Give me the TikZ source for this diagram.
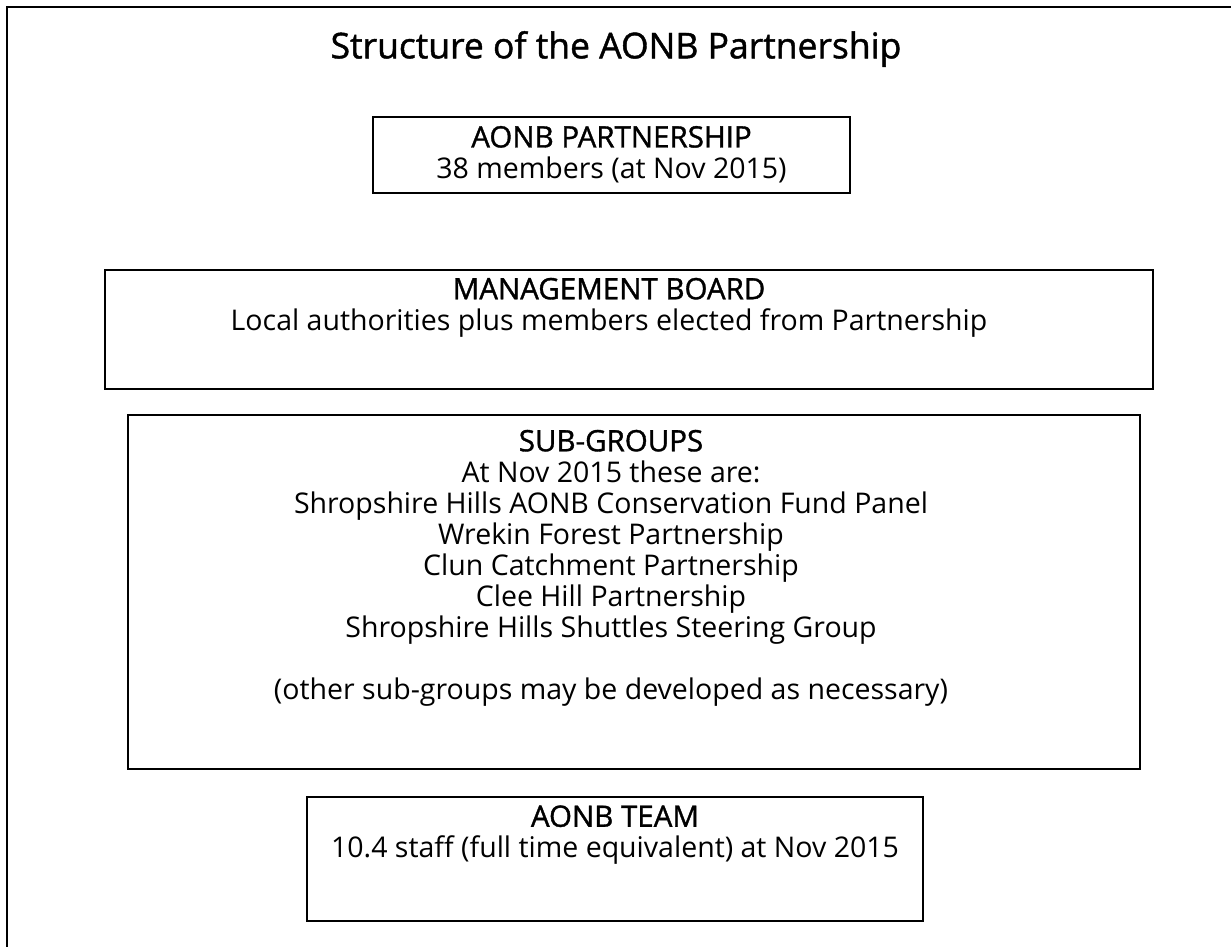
\documentclass[tikz,border=0pt]{standalone}
\usepackage{fontspec}
\setmainfont{Open Sans}
\newfontfamily\semib[FakeBold=1.2]{Open Sans}
\newcommand{\hd}[1]{{\semib\fontsize{29.5}{31}\selectfont #1}}
\begin{document}
\begin{tikzpicture}[x=1pt,y=-1pt,
  box/.style={draw=black,line width=1.6pt,inner sep=0pt},
  txt/.style={inner sep=0pt,align=center,font=\fontsize{28.5}{31}\selectfont},
  ttl/.style={inner sep=0pt,font=\semib\fontsize{35.5}{38}\selectfont}]
\useasboundingbox (0,0) rectangle (1231,947);
\draw[line width=1.6pt] (7,947) -- (7,7) -- (1231,7);
\node[ttl] (title) at (616,49) {Structure of the AONB Partnership};
% boxes
\node[box,minimum width=477pt,minimum height=76pt] (p) at (611.5,155) {};
\node[box,minimum width=1048pt,minimum height=119pt] (m) at (629,329.5) {};
\node[box,minimum width=1012pt,minimum height=354pt] (s) at (634,592) {};
\node[box,minimum width=616pt,minimum height=124pt] (t) at (615,859) {};
% texts
\node[txt] (pt) at (611.5,154.5) {\hd{AONB PARTNERSHIP}\\38 members (at Nov 2015)};
\node[txt] (mt) at (609,307.5) {\hd{MANAGEMENT BOARD}\\Local authorities plus members elected from Partnership};
\node[txt] (st) at (611,568) {\hd{SUB-GROUPS}\\At Nov 2015 these are:\\Shropshire Hills AONB Conservation Fund Panel\\Wrekin Forest Partnership\\Clun Catchment Partnership\\Clee Hill Partnership\\Shropshire Hills Shuttles Steering Group\\[31pt](other sub-groups may be developed as necessary)};
\node[txt] (tt) at (615,835) {\hd{AONB TEAM}\\10.4 staff (full time equivalent) at Nov 2015};
\end{tikzpicture}
\end{document}
